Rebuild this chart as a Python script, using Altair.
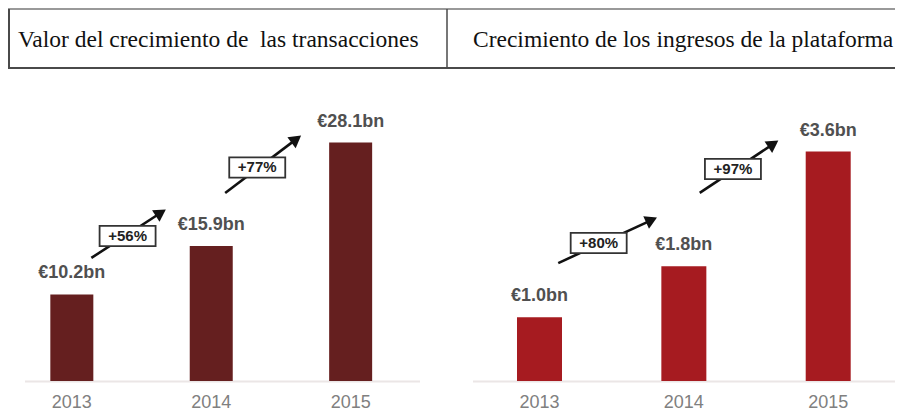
import math
import altair as alt
import pandas as pd

# ---------------- data ----------------
years = [2013, 2014, 2015]
left_values = [10.2, 15.9, 28.1]
left_labels = ["€10.2bn", "€15.9bn", "€28.1bn"]
right_values = [1.0, 1.8, 3.6]
right_labels = ["€1.0bn", "€1.8bn", "€3.6bn"]

left_growth = ["+56%", "+77%"]
right_growth = ["+80%", "+97%"]

# growth arrows (year units, value units)
left_arrow_x0 = [2013.14, 2014.10]
left_arrow_y0 = [14.5, 22.15]
left_arrow_x1 = [2013.68, 2014.65]
left_arrow_y1 = [20.27, 28.99]
left_box_x = [2013.40, 2014.33]
left_box_y = [17.08, 25.16]

right_arrow_x0 = [2013.13, 2014.11]
right_arrow_y0 = [1.85, 2.95]
right_arrow_x1 = [2013.82, 2014.66]
right_arrow_y1 = [2.57, 3.78]
right_box_x = [2013.41, 2014.34]
right_box_y = [2.165, 3.325]

header_left = "Valor del crecimiento de\u00a0 las transacciones"
header_right = "Crecimiento de los ingresos de la plataforma"

# ---------------- layout ----------------
W, H = 887, 404
BASE_Y = 373
ONE = alt.Data(values=[{"a": 1}])


def panel(values, labels, growth, ax0, ay0, ax1, ay1, bx, by,
          px_x, x_origin, px_y, bar_w, color, line_x0, line_x1):
    xs = alt.Scale(domain=[2013 - x_origin / px_x, 2013 + (W - x_origin) / px_x],
                   nice=False, zero=False)
    ys = alt.Scale(domain=[-(H - BASE_Y) / px_y, BASE_Y / px_y], nice=False, zero=False)

    bars_df = pd.DataFrame({"year": years, "value": values, "label": labels,
                            "ytxt": [str(y) for y in years]})
    rows = []
    for i in range(len(growth)):
        dxp = (ax1[i] - ax0[i]) * px_x
        dyp = (ay1[i] - ay0[i]) * px_y
        th = math.atan2(dyp, dxp)
        hx = ax1[i] - 7 * math.cos(th) / px_x
        hy = ay1[i] - 7 * math.sin(th) / px_y
        rows.append({"x0": ax0[i], "y0": ay0[i], "hx": hx, "hy": hy,
                     "ang": 90 - math.degrees(th), "bx": bx[i], "by": by[i],
                     "g": growth[i]})
    arr_df = pd.DataFrame(rows)

    X = lambda f: alt.X(f, type="quantitative", scale=xs, axis=None)
    Y = lambda f: alt.Y(f, type="quantitative", scale=ys, axis=None)

    baseline = alt.Chart(ONE).mark_rule(color="#ebe6e6", strokeWidth=2).encode(
        x=alt.value(line_x0), x2=alt.value(line_x1), y=alt.value(BASE_Y + 0.5))
    bars = alt.Chart(bars_df).mark_bar(width=bar_w, color=color).encode(
        x=X("year"), y=Y("value"))
    vals = alt.Chart(bars_df).mark_text(
        dy=-21, baseline="middle", font="Liberation Sans", fontWeight="bold",
        fontSize=18, color="#505050").encode(x=X("year"), y=Y("value"), text="label:N")
    yrs = alt.Chart(bars_df).mark_text(
        baseline="middle", font="Liberation Sans", fontSize=18, color="#808080").encode(
        x=X("year"), y=alt.value(BASE_Y + 22), text="ytxt:N")
    shafts = alt.Chart(arr_df).mark_rule(color="#111111", strokeWidth=2.6).encode(
        x=X("x0"), y=Y("y0"), x2="hx", y2="hy")
    boxes = alt.Chart(arr_df).mark_point(
        shape="M-1,-0.36L1,-0.36L1,0.36L-1,0.36Z", size=56 * 56, filled=True,
        fill="white", stroke="#333333", strokeWidth=1.8, opacity=1).encode(
        x=X("bx"), y=Y("by"))
    btxt = alt.Chart(arr_df).mark_text(
        baseline="middle", font="Liberation Sans", fontWeight="bold", fontSize=15,
        color="#222222").encode(x=X("bx"), y=Y("by"), text="g:N")
    heads = alt.Chart(arr_df).mark_point(
        shape="triangle-up", size=190, filled=True, color="#111111", opacity=1).encode(
        x=X("hx"), y=Y("hy"), angle=alt.Angle("ang:Q", scale=None))
    return alt.layer(baseline, bars, vals, yrs, shafts, boxes, btxt, heads)


left = panel(left_values, left_labels, left_growth,
             left_arrow_x0, left_arrow_y0, left_arrow_x1, left_arrow_y1,
             left_box_x, left_box_y, 141, 59.5, 8.487, 43, "#651f1f", 17, 412)
right = panel(right_values, right_labels, right_growth,
              right_arrow_x0, right_arrow_y0, right_arrow_x1, right_arrow_y1,
              right_box_x, right_box_y, 146, 532.5, 63.75, 45, "#a61b20", 465, 887)

# header table
hl = "#4a4a4a"
top_line = alt.Chart(ONE).mark_rule(color="#777777", strokeWidth=1.5).encode(
    x=alt.value(0), x2=alt.value(W), y=alt.value(1))
bot_line = alt.Chart(ONE).mark_rule(color=hl, strokeWidth=2).encode(
    x=alt.value(0), x2=alt.value(W), y=alt.value(60))
left_line = alt.Chart(ONE).mark_rule(color=hl, strokeWidth=2).encode(
    x=alt.value(1), y=alt.value(1), y2=alt.value(60))
div_line = alt.Chart(ONE).mark_rule(color=hl, strokeWidth=1.5).encode(
    x=alt.value(439), y=alt.value(1), y2=alt.value(60))
h1 = alt.Chart(ONE).mark_text(align="left", baseline="alphabetic", font="Liberation Serif",
                              fontSize=23.5, color="#111111").encode(
    x=alt.value(10), y=alt.value(39), text=alt.value(header_left))
h2 = alt.Chart(ONE).mark_text(align="left", baseline="alphabetic", font="Liberation Serif",
                              fontSize=23.5, color="#111111").encode(
    x=alt.value(465), y=alt.value(39), text=alt.value(header_right))

chart = alt.layer(top_line, bot_line, left_line, div_line, h1, h2, left, right).resolve_scale(
    x="independent", y="independent").properties(
    width=W, height=H, autosize=alt.AutoSizeParams(type="none"), padding=0,
    background="white").configure_view(stroke=None)

chart.save("out.html", embed_options={"renderer": "svg", "actions": False})
